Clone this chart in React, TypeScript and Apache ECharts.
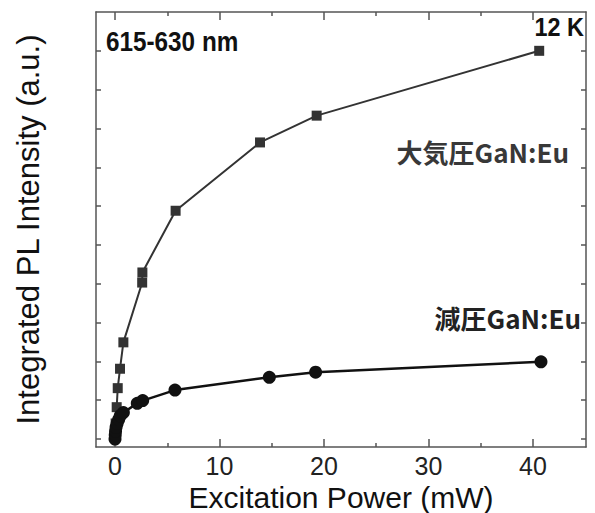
import React, { useEffect, useRef } from "react";
import * as echarts from "echarts";

// Excitation power (mW) and integrated PL intensity (a.u.)
const atmX = [0.02, 0.06, 0.16, 0.26, 0.48, 0.8, 2.6, 2.62, 5.8, 13.88, 19.3, 40.6];
const atmY = [0.1, 0.4, 0.82, 1.31, 1.81, 2.49, 4.03, 4.29, 5.88, 7.64, 8.33, 10.0];
const lowX = [0.0, 0.02, 0.05, 0.1, 0.2, 0.35, 0.5, 0.8, 2.13, 2.65, 5.74, 14.77, 19.2, 40.77];
const lowY = [0.0, 0.1, 0.2, 0.3, 0.4, 0.5, 0.6, 0.68, 0.92, 0.99, 1.26, 1.59, 1.72, 1.99];

const xMajor = [0, 10, 20, 30, 40];
const xMinor = [5, 15, 25, 35];
const yTicks = [0, 1, 2, 3, 4, 5, 6, 7, 8, 9, 10];

const xTitle = "Excitation Power (mW)";
const yTitle = "Integrated PL Intensity (a.u.)";
const atmLabel = "大気圧GaN:Eu";
const lowLabel = "減圧GaN:Eu";
const bandLabel = "615-630 nm";
const tempLabel = "12 K";

const AX = "#555";

export default function App() {
  const ref = useRef<HTMLDivElement>(null);
  useEffect(() => {
    if (!ref.current) return;
    const chart = echarts.init(ref.current, null, { renderer: "svg" });
    const gridRect = { left: 96, right: 9, top: 12, bottom: 66, containLabel: false, outerBoundsMode: "none" };
    const xRange = { min: -1.82, max: 45.08 };
    const yRange = { min: -0.206, max: 11.0 };
    const tickLine = { color: AX, width: 1.5 };
    chart.setOption({
      animation: false,
      backgroundColor: "#fff",
      grid: [gridRect, gridRect],
      xAxis: [
        {
          type: "value", gridIndex: 0, position: "bottom", ...xRange,
          axisLine: { show: true, onZero: false, lineStyle: tickLine },
          axisTick: { show: true, inside: true, length: 8, customValues: xMajor, lineStyle: tickLine },
          axisLabel: { show: true, customValues: xMajor, fontSize: 25, color: "#222", margin: 6, fontFamily: "Liberation Sans" },
          splitLine: { show: false },
          name: xTitle, nameLocation: "middle", nameGap: 29,
          nameTextStyle: { fontSize: 30, lineHeight: 30, color: "#111", fontFamily: "Liberation Sans" },
        },
        {
          type: "value", gridIndex: 0, position: "top", ...xRange,
          axisLine: { show: true, onZero: false, lineStyle: tickLine },
          axisTick: { show: true, inside: true, length: 8, customValues: xMajor, lineStyle: tickLine },
          axisLabel: { show: false },
          splitLine: { show: false },
        },
        {
          type: "value", gridIndex: 1, position: "bottom", ...xRange,
          axisLine: { show: false, onZero: false },
          axisTick: { show: true, inside: true, length: 4, customValues: xMinor, lineStyle: tickLine },
          axisLabel: { show: false },
          splitLine: { show: false },
        },
        {
          type: "value", gridIndex: 1, position: "top", ...xRange,
          axisLine: { show: false, onZero: false },
          axisTick: { show: true, inside: true, length: 4, customValues: xMinor, lineStyle: tickLine },
          axisLabel: { show: false },
          splitLine: { show: false },
        },
      ],
      yAxis: [
        {
          type: "value", gridIndex: 0, position: "left", ...yRange,
          axisLine: { show: true, onZero: false, lineStyle: tickLine },
          axisTick: { show: true, inside: true, length: 5, customValues: yTicks, lineStyle: tickLine },
          axisLabel: { show: false },
          splitLine: { show: false },
          name: yTitle, nameLocation: "middle", nameGap: 52,
          nameTextStyle: { fontSize: 31, lineHeight: 32, color: "#111", fontFamily: "Liberation Sans" },
        },
        {
          type: "value", gridIndex: 0, position: "right", ...yRange,
          axisLine: { show: true, onZero: false, lineStyle: tickLine },
          axisTick: { show: true, inside: true, length: 5, customValues: yTicks, lineStyle: tickLine },
          axisLabel: { show: false },
          splitLine: { show: false },
        },
        {
          type: "value", gridIndex: 1, ...yRange,
          axisLine: { show: false }, axisTick: { show: false }, axisLabel: { show: false }, splitLine: { show: false },
        },
      ],
      series: [
        {
          type: "line", xAxisIndex: 0, yAxisIndex: 0,
          data: atmX.map((x, i) => [x, atmY[i]]),
          symbol: "rect", symbolSize: 10,
          itemStyle: { color: "#333" },
          lineStyle: { color: "#333", width: 2 },
          z: 3,
        },
        {
          type: "line", xAxisIndex: 0, yAxisIndex: 0,
          data: lowX.map((x, i) => [x, lowY[i]]),
          symbol: "circle", symbolSize: 13,
          itemStyle: { color: "#111" },
          lineStyle: { color: "#111", width: 2.5 },
          z: 4,
        },
      ],
      graphic: [
        {
          type: "text", x: 106, y: 42, scaleX: 0.9,
          style: { text: bandLabel, fontSize: 27, fontWeight: "bold", fontFamily: "Liberation Sans", fill: "#111", verticalAlign: "middle" },
        },
        {
          type: "text", x: 584, y: 27, scaleX: 0.9,
          style: { text: tempLabel, fontSize: 26, fontWeight: "bold", fontFamily: "Liberation Sans", fill: "#111", align: "right", verticalAlign: "middle" },
        },
        {
          type: "text", x: 569, y: 151,
          style: { text: atmLabel, fontSize: 26, fontWeight: "bold", fontFamily: "Noto Sans CJK JP", fill: "#383838", align: "right", verticalAlign: "middle" },
        },
        {
          type: "text", x: 581, y: 317,
          style: { text: lowLabel, fontSize: 26, fontWeight: "bold", fontFamily: "Noto Sans CJK JP", fill: "#222", align: "right", verticalAlign: "middle" },
        },
      ],
    });
    return () => chart.dispose();
  }, []);
  return (
    <div
      ref={ref}
      style={{ position: "fixed", left: 0, top: 0, width: 595, height: 513, background: "#fff" }}
    />
  );
}
